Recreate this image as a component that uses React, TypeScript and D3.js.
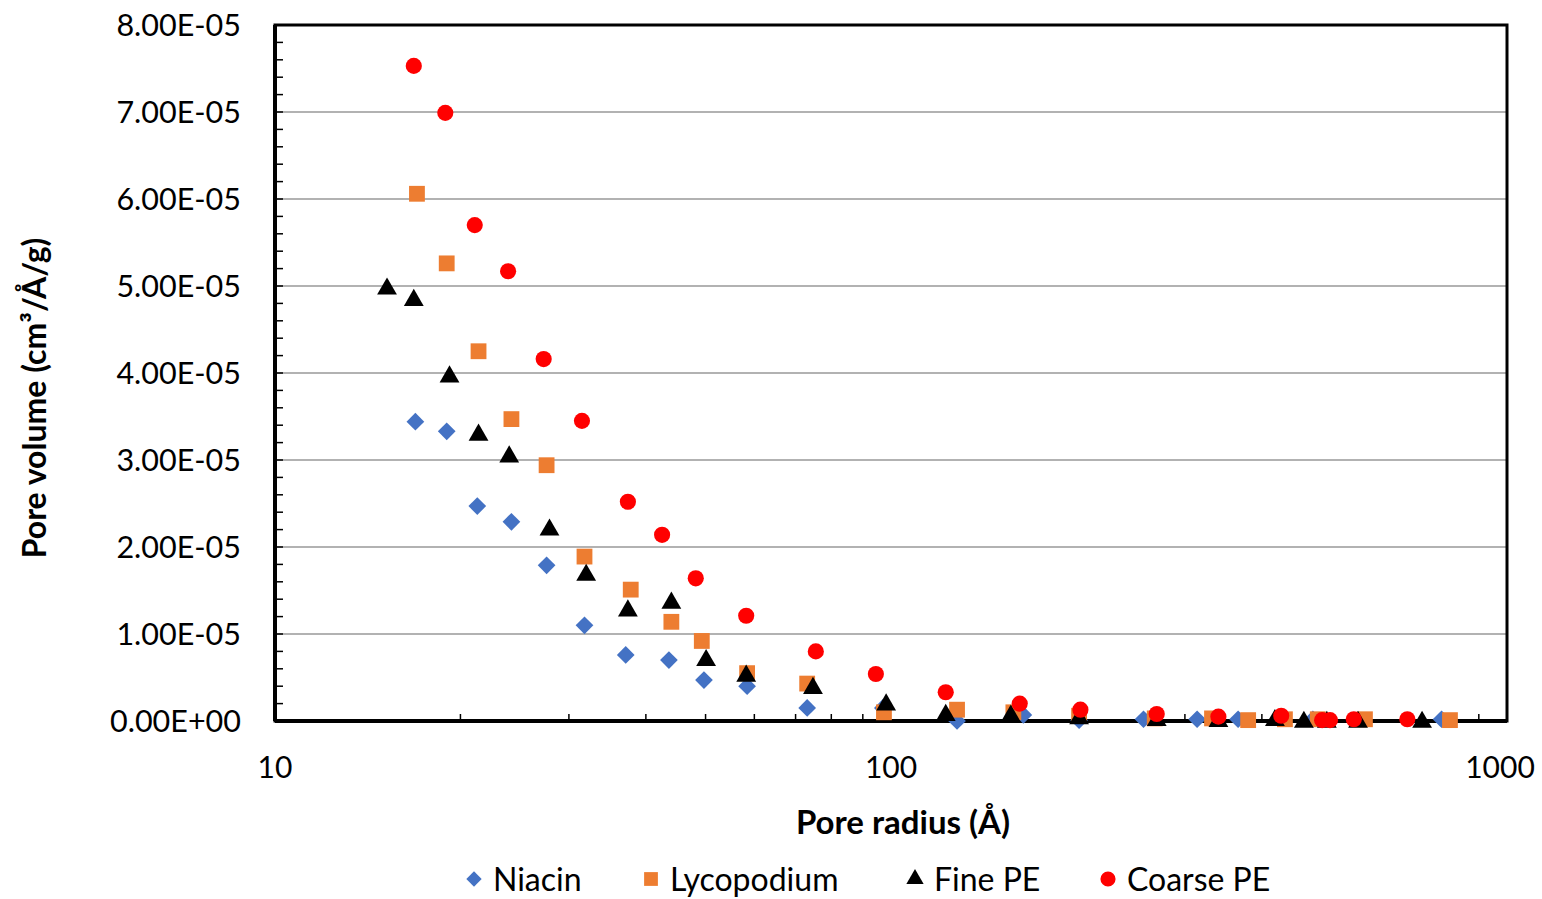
import React, { useRef, useEffect } from "react";
import * as d3 from "d3";

// pore radius (Å), pore volume (cm³/Å/g)
const niacin: [number, number][] = [
  [16.9, 3.44e-5], [19.0, 3.33e-5], [21.3, 2.47e-5], [24.2, 2.29e-5],
  [27.6, 1.79e-5], [31.8, 1.1e-5], [37.1, 7.6e-6], [43.6, 7.0e-6],
  [49.7, 4.7e-6], [58.4, 4.0e-6], [73.1, 1.5e-6], [97, 1.5e-6],
  [128, 0], [164, 7e-7], [202, 1e-7], [257, 2e-7], [314, 2e-7],
  [366, 2e-7], [484, 2e-7], [783, 2e-7],
];
const lycopodium: [number, number][] = [
  [17.0, 6.06e-5], [19.0, 5.26e-5], [21.4, 4.25e-5], [24.2, 3.47e-5],
  [27.6, 2.94e-5], [31.8, 1.89e-5], [37.8, 1.51e-5], [44.0, 1.14e-5],
  [49.3, 9.2e-6], [58.4, 5.5e-6], [73.1, 4.3e-6], [97.4, 1.0e-6],
  [128, 1.3e-6], [158, 1.0e-6], [202, 6e-7], [268, 3e-7], [332, 3e-7],
  [380, 1e-7], [436, 2e-7], [493, 2e-7], [588, 2e-7], [808, 1e-7],
];
const finePE: [number, number][] = [
  [15.2, 4.99e-5], [16.8, 4.86e-5], [19.2, 3.98e-5], [21.4, 3.31e-5],
  [24.0, 3.06e-5], [27.9, 2.22e-5], [32.0, 1.7e-5], [37.4, 1.29e-5],
  [44.0, 1.38e-5], [50.1, 7.2e-6], [58.2, 5.4e-6], [74.7, 4.0e-6],
  [98.2, 2.1e-6], [122.7, 9e-7], [156.5, 8e-7], [202, 5e-7], [270, 3e-7],
  [340, 2e-7], [420, 3e-7], [468, 1e-7], [510, 1e-7], [573, 1e-7],
  [728, 1e-7],
];
const coarsePE: [number, number][] = [
  [16.8, 7.53e-5], [18.9, 6.99e-5], [21.1, 5.7e-5], [23.9, 5.17e-5],
  [27.3, 4.16e-5], [31.5, 3.45e-5], [37.4, 2.52e-5], [42.5, 2.14e-5],
  [48.2, 1.64e-5], [58.2, 1.21e-5], [75.5, 8.0e-6], [94.5, 5.4e-6],
  [122.7, 3.3e-6], [161.8, 2.0e-6], [203, 1.3e-6], [270, 8e-7],
  [340, 5e-7], [430, 6e-7], [501, 1e-7], [516, 1e-7], [564, 2e-7],
  [689, 2e-7],
];

const seriesNames = ["Niacin", "Lycopodium", "Fine PE", "Coarse PE"];
const seriesData = [niacin, lycopodium, finePE, coarsePE];
const seriesColors = ["#4472C4", "#ED7D31", "#000000", "#FF0000"];
const seriesShapes = [d3.symbolDiamond2, d3.symbolSquare, d3.symbolTriangle, d3.symbolCircle];

const xTickValues = [10, 100, 1000];
const yTickValues = [0, 1e-5, 2e-5, 3e-5, 4e-5, 5e-5, 6e-5, 7e-5, 8e-5];

const FONT = "Lato, 'Open Sans', sans-serif";

const fmtSci = (v: number) => {
  const [m, e] = v.toExponential(2).split("e");
  const sign = e[0] === "-" ? "-" : "+";
  const digits = e.replace(/[+-]/, "").padStart(2, "0");
  return `${m}E${sign}${digits}`;
};

const App = () => {
  const ref = useRef<SVGSVGElement>(null);

  useEffect(() => {
    const width = 1542;
    const height = 899;
    const svg = d3.select(ref.current);
    svg.selectAll("*").remove();

    const left = 275, right = 1507, top = 25, bottom = 721;

    const x = d3.scaleLog().domain([10, 1000]).range([left, right]);
    const y = d3.scaleLinear().domain([0, 8e-5]).range([bottom, top]);

    svg.attr("width", width).attr("height", height);

    // gridlines
    svg.append("g")
      .selectAll("line")
      .data(yTickValues.slice(1, -1))
      .enter()
      .append("line")
      .attr("x1", left)
      .attr("x2", right)
      .attr("y1", (d) => y(d))
      .attr("y2", (d) => y(d))
      .attr("stroke", "#999999")
      .attr("stroke-width", 1.3);

    // minor ticks, y (inside)
    const yMinor = d3.range(0, 41).map((i) => i * 2e-6);
    svg.append("g")
      .selectAll("line")
      .data(yMinor)
      .enter()
      .append("line")
      .attr("x1", left)
      .attr("x2", left + 8)
      .attr("y1", (d) => y(d))
      .attr("y2", (d) => y(d))
      .attr("stroke", "#000")
      .attr("stroke-width", 1.5);

    // minor ticks, x (inside)
    const xMinor: number[] = [];
    [10, 100].forEach((b) => d3.range(2, 10).forEach((k) => xMinor.push(b * k)));
    svg.append("g")
      .selectAll("line")
      .data(xMinor)
      .enter()
      .append("line")
      .attr("x1", (d) => x(d))
      .attr("x2", (d) => x(d))
      .attr("y1", bottom)
      .attr("y2", bottom - 7)
      .attr("stroke", "#000")
      .attr("stroke-width", 1.5);

    // frame
    svg.append("rect")
      .attr("x", left)
      .attr("y", top)
      .attr("width", right - left)
      .attr("height", bottom - top)
      .attr("fill", "none")
      .attr("stroke", "#000")
      .attr("stroke-width", 3);
    svg.append("line")
      .attr("x1", left).attr("x2", right)
      .attr("y1", bottom).attr("y2", bottom)
      .attr("stroke", "#000").attr("stroke-width", 4);
    svg.append("line")
      .attr("x1", left).attr("x2", left)
      .attr("y1", top).attr("y2", bottom)
      .attr("stroke", "#000").attr("stroke-width", 4);

    // points
    const markerSize = [200, 250, 170, 205];
    seriesData.forEach((data, i) => {
      const sym = d3.symbol().type(seriesShapes[i]).size(markerSize[i]);
      svg.append("g")
        .selectAll("path")
        .data(data)
        .enter()
        .append("path")
        .attr("d", sym)
        .attr("transform", (d) => `translate(${x(d[0])},${y(d[1]) + (i === 2 ? 2 : 0)})`)
        .attr("fill", seriesColors[i]);
    });

    // y tick labels
    svg.append("g")
      .selectAll("text")
      .data(yTickValues)
      .enter()
      .append("text")
      .attr("x", 241)
      .attr("y", (d) => y(d))
      .attr("dy", "0.35em")
      .attr("text-anchor", "end")
      .style("font-family", FONT)
      .style("font-size", "30.5px")
      .style("fill", "#000")
      .text((d) => fmtSci(d));

    // x tick labels
    svg.append("g")
      .selectAll("text")
      .data(xTickValues)
      .enter()
      .append("text")
      .attr("x", (d) => Math.min(x(d), 1500))
      .attr("y", 778)
      .attr("text-anchor", "middle")
      .style("font-family", FONT)
      .style("font-size", "30px")
      .style("fill", "#000")
      .text((d) => String(d));

    // axis titles
    svg.append("text")
      .attr("x", 903)
      .attr("y", 834)
      .attr("text-anchor", "middle")
      .style("font-family", FONT)
      .style("font-size", "33px")
      .style("font-weight", "bold")
      .text("Pore radius (Å)");

    svg.append("text")
      .attr("transform", "translate(46,398) rotate(-90)")
      .attr("text-anchor", "middle")
      .style("font-family", FONT)
      .style("font-size", "32px")
      .style("font-weight", "bold")
      .text("Pore volume (cm³/Å/g)");

    // legend
    const legendX = [474, 651, 915, 1108];
    const legendSize = [150, 190, 130, 180];
    seriesNames.forEach((name, i) => {
      const g = svg.append("g").attr("transform", `translate(${legendX[i]},879)`);
      g.append("path")
        .attr("d", d3.symbol().type(seriesShapes[i]).size(legendSize[i])())
        .attr("fill", seriesColors[i]);
      g.append("text")
        .attr("x", 19)
        .attr("y", 0)
        .attr("dy", "0.36em")
        .style("font-family", FONT)
        .style("font-size", "32px")
        .style("fill", "#000")
        .text(name);
    });
  }, []);

  return (
    <div style={{ position: "absolute", left: 0, top: 0 }}>
      <svg ref={ref}></svg>
    </div>
  );
};

export default App;
